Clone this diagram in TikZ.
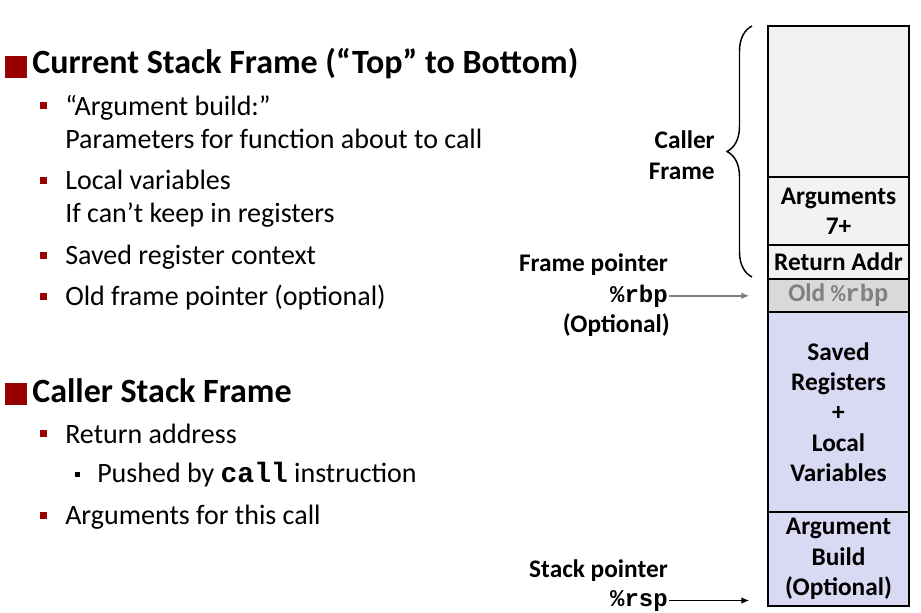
\documentclass[tikz,border=0pt]{standalone}
\usepackage{fontspec}
\setmainfont{Carlito}
\setmonofont{Liberation Mono}
\usetikzlibrary{arrows.meta, decorations.pathreplacing}
\definecolor{SlideRed}{RGB}{153, 0, 0}
\definecolor{CellGray}{RGB}{242, 242, 242}
\definecolor{CellDark}{RGB}{217, 217, 217}
\definecolor{CellBlue}{RGB}{217, 217, 243}

\begin{document}
\begin{tikzpicture}[x=0.75pt, y=-0.75pt,
	cell/.style={draw=black, line width=1.5pt, minimum width=105.75pt, inner sep=0pt, outer sep=0pt, align=center, font=\fontsize{19}{22.75}\selectfont\bfseries},
	lbl/.style={anchor=base east, inner sep=0pt, font=\fontsize{19}{23}\selectfont\bfseries},
	code/.style={font=\fontsize{18}{22}\selectfont\ttfamily\bfseries},
	head/.style={anchor=base west, inner sep=0pt, font=\fontsize{25.5}{30}\selectfont\bfseries},
	item/.style={anchor=base west, inner sep=0pt, font=\fontsize{21}{25}\selectfont},
	bigsq/.style={fill=SlideRed, minimum size=16.5pt, inner sep=0pt},
	dotsq/.style={fill=SlideRed, minimum size=5.25pt, inner sep=0pt},
	ptr/.style={-{Latex[length=6pt, width=5pt]}, line width=1.1pt, shorten >=14pt, shorten <=1pt}]
	\useasboundingbox (0,0) rectangle (921,613);

	% stack
	\node[cell, fill=CellGray, minimum height=113.25pt] (caller) at (838.5,101.5) {};
	\node[cell, fill=CellGray, minimum height=51pt] (args) at (838.5,211) {Arguments\\7+};
	\node[cell, fill=CellGray, minimum height=25.5pt] (ret) at (838.5,262) {Return Addr};
	\node[cell, fill=CellDark, minimum height=24.75pt, text=gray] (oldrbp) at (838.5,295.5) {Old {\fontsize{18}{22}\selectfont\ttfamily\%rbp}};
	\node[cell, fill=CellBlue, minimum height=150pt] (saved) at (838.5,412) {Saved\\Registers\\+\\Local\\Variables};
	\node[cell, fill=CellBlue, minimum height=70.5pt] (build) at (838.5,559) {Argument\\Build\\(Optional)};

	\draw[decorate, decoration={brace, amplitude=18.75pt}, line width=1.1pt] (752,277) -- (752,26);
	\node[lbl, anchor=east, align=right] (callerlbl) at (715,155) {Caller\\Frame};

	\node[lbl] (fp) at (668,272) {Frame pointer};
	\node[lbl, code] (rbp) at (668,302) {\%rbp};
	\node[lbl] (opt) at (670,332) {(Optional)};
	\node[lbl] (sp) at (668,577) {Stack pointer};
	\node[lbl, code] (rsp) at (668,606) {\%rsp};
	\draw[ptr, gray] (rbp.east) -- (rbp.east -| oldrbp.west);
	\draw[ptr] (rsp.east) -- (rsp.east -| build.west);

	% left text
	\node[bigsq] (m1) at (16,67) {};
	\node[head] (h1) at (32,74) {Current Stack Frame (“Top” to Bottom)};
	\node[dotsq] (d1) at (43.5,106) {};
	\node[item] (t1) at (65,116) {“Argument build:”};
	\node[item] (t2) at (65,149) {Parameters for function about to call};
	\node[dotsq] (d2) at (43.5,180.5) {};
	\node[item] (t3) at (65,190) {Local variables};
	\node[item] (t4) at (65,223) {If can’t keep in registers};
	\node[dotsq] (d3) at (43.5,255) {};
	\node[item] (t5) at (65,264) {Saved register context};
	\node[dotsq] (d4) at (43.5,296) {};
	\node[item] (t6) at (65,305) {Old frame pointer (optional)};

	\node[bigsq] (m2) at (16,393.5) {};
	\node[head] (h2) at (32,402) {Caller Stack Frame};
	\node[dotsq] (d5) at (43.5,433.5) {};
	\node[item] (t7) at (65,443) {Return address};
	\node[dotsq, fill=black, minimum size=4pt] (d6) at (77.5,474.5) {};
	\node[item] (t8) at (97,482) {Pushed by \texttt{\bfseries call} instruction};
	\node[dotsq] (d7) at (43.5,515) {};
	\node[item] (t9) at (65,524) {Arguments for this call};
\end{tikzpicture}
\end{document}
